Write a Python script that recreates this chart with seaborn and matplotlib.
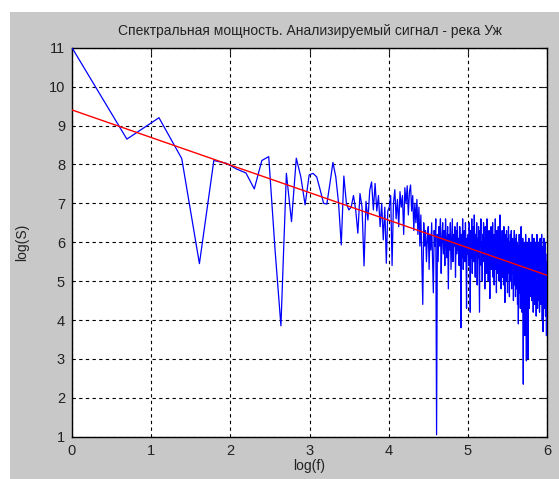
import numpy as np
import pandas as pd
import matplotlib
matplotlib.use("Agg")
import matplotlib.pyplot as plt
import seaborn as sns
from matplotlib.patches import Rectangle

# ---- data: log spectral power at frequency index f = 1..400 ----
log_power_low = [
    11.0, 8.65, 9.2, 8.15, 5.45, 8.1, 8.03, 7.88, 7.78, 7.37,
    8.1, 8.2, 5.8, 3.85, 7.77, 6.53, 8.16, 7.68, 6.96, 7.73,
    7.77, 7.68, 7.34, 7.0, 6.98, 7.51, 8.05, 7.68, 7.0, 5.93,
    7.7, 7.0, 6.83, 6.9, 7.2, 6.83, 6.23, 7.25, 6.9, 5.39,
    7.05, 6.57, 7.34, 7.55, 6.83, 7.51, 6.8, 7.2, 6.4, 7.0,
    6.06, 6.9, 5.46, 6.8,
]
log_power_mid = [
    6.9, 7.2, 5.4, 7.0, 7.35, 6.6, 7.1, 6.4, 7.3, 6.9, 7.2, 6.2,
    7.4, 7.0, 7.45, 6.7, 7.3, 7.47, 6.8, 7.2, 6.3, 7.0, 6.5, 7.1,
    6.2, 6.9, 5.9, 6.7, 5.6, 4.4, 6.5, 5.9, 6.3, 5.5, 6.1, 6.4,
    5.3, 6.2, 5.8, 6.5, 5.6, 4.7, 6.3, 5.9, 6.6, 1.05, 6.2, 5.5,
    6.4, 5.9, 6.6, 5.2, 6.1, 6.5, 5.7, 6.3, 5.4, 6.6, 6.0, 5.6,
    6.4, 4.8, 6.2, 5.8, 6.5, 5.3, 6.0, 6.6, 5.5, 6.2, 5.9, 6.4,
    5.1, 6.3, 5.7, 6.5, 5.8, 6.1, 5.4, 6.4, 5.9, 3.8, 6.2, 5.6,
    6.6, 5.3, 6.0, 6.3, 5.5, 6.5, 5.8, 4.3, 6.1, 5.7,
]
log_power_high = [
    6.2, 5.4, 6.5, 5.9, 4.2, 6.3, 5.6, 6.6, 5.2, 6.0, 6.4, 5.5,
    6.7, 5.8, 5.1, 6.2, 5.7, 6.5, 4.9, 6.1, 5.6, 6.4, 5.3, 4.2,
    6.3, 5.9, 6.6, 5.4, 6.0, 5.0, 6.2, 5.7, 6.5, 5.5, 6.1, 4.8,
    6.4, 5.8, 6.0, 5.2, 6.6, 5.6, 6.2, 5.0, 5.9, 6.3, 5.4, 4.55,
    6.1, 5.7, 6.4, 5.3,
    6.0, 5.5, 6.5, 5.1, 5.8, 6.2, 4.9, 6.0, 5.6, 6.6, 5.3, 5.9,
    4.7, 6.3, 5.5, 6.1, 5.2, 6.4, 5.8, 5.0, 6.2, 5.6, 6.7, 5.4,
    5.9, 4.8, 6.1, 5.5, 6.3, 5.1, 5.8, 6.0, 4.9, 6.4, 5.6, 5.2, 4.45,
    6.2, 5.7, 6.0, 5.0, 6.3, 5.4, 5.9, 4.7, 6.1, 5.5, 6.4, 5.2,
    5.8, 4.6, 6.0, 5.4, 6.2, 5.0, 5.7, 6.3, 4.8, 5.9, 5.3,
    6.1, 5.2, 5.7, 4.5, 6.0, 5.5, 6.3, 4.9, 5.6, 6.1, 4.6, 5.8,
    5.3, 6.2, 4.8, 5.5, 6.0, 4.4, 5.7, 5.1, 3.9, 5.9, 5.3, 6.2,
    4.7, 5.5, 6.0, 4.3, 5.8, 5.2, 6.4, 4.9, 5.6, 4.2, 5.9, 5.0,
    6.1, 4.6, 2.35, 5.7, 5.2, 6.0, 4.4, 5.5, 3.6, 5.9, 4.8, 6.2,
    5.3, 4.1, 2.95, 5.6, 5.0, 6.0, 4.5, 5.4, 3.0, 5.8, 4.9, 5.3,
    6.1, 4.3, 5.6, 5.0, 5.9, 4.6, 5.4, 6.0, 4.8, 5.5,
    5.1, 5.9, 4.5, 5.6, 6.2, 4.8, 5.3, 5.9, 4.2, 5.7,
    5.0, 6.1, 4.6, 5.4, 5.8, 4.4, 5.6, 5.1, 6.0, 4.7,
    5.5, 4.1, 5.8, 5.2, 6.2, 4.9, 5.4, 4.3, 5.9, 5.0,
    5.7, 4.5, 6.0, 5.3, 4.8, 5.8, 4.2, 5.5, 5.0, 6.1,
    4.6, 5.4, 5.9, 4.4, 5.6, 5.1, 6.2, 4.7, 5.3, 4.0,
    5.8, 5.0, 5.5, 3.7, 5.9, 4.8, 5.4, 6.1, 4.3, 5.6,
    5.0, 5.8, 4.5, 6.0, 5.2, 4.1, 5.7, 4.9, 5.5, 3.6,
]
log_power = log_power_low + log_power_mid + log_power_high
freq_index = np.arange(1, len(log_power) + 1)
log_f = np.log(freq_index)

# linear fit endpoints (red regression line)
fit_x = [0.0, 6.0]
fit_y = [9.4, 5.15]

title = "Спектральная мощность. Анализируемый сигнал - река Уж"
xlabel = "log(f)"
ylabel = "log(S)"
xticks = [0, 1, 2, 3, 4, 5, 6]
yticks = [1, 2, 3, 4, 5, 6, 7, 8, 9, 10, 11]

df = pd.DataFrame({"log_f": log_f, "log_S": log_power})
df_fit = pd.DataFrame({"x": fit_x, "y": fit_y})

sns.set_style("white")
plt.rcParams["font.family"] = ["Liberation Sans", "DejaVu Sans"]

W, H = 559, 479
fig = plt.figure(figsize=(W / 100, H / 100), dpi=100, facecolor="white")
bg = Rectangle((10 / W, 0), (W - 10) / W, (H - 12) / H,
               transform=fig.transFigure, facecolor="#c8c8c8",
               edgecolor="none", zorder=-10)
fig.add_artist(bg)
ax = fig.add_axes([72 / W, (H - 436.7) / H, (547 - 72) / W, (436.7 - 47.7) / H])
ax.set_zorder(5)
ax.set_facecolor("white")

sns.lineplot(data=df, x="log_f", y="log_S", sort=False, estimator=None,
             color="#0000ff", lw=0.9, ax=ax, zorder=3)
sns.lineplot(data=df_fit, x="x", y="y", sort=False, estimator=None,
             color="#ff0000", lw=1.0, ax=ax, zorder=4)

ax.set_xlim(0, 6)
ax.set_ylim(1, 11)
ax.set_xticks(xticks)
ax.set_yticks(yticks)
ax.grid(True, color="black", linestyle=(0, (3, 3)), lw=0.8)
ax.set_axisbelow(True)
for s in ax.spines.values():
    s.set_color("black")
    s.set_linewidth(1.0)
ax.tick_params(direction="in", length=4, width=0.8, colors="#222222",
               labelsize=10.5, top=True, right=True, pad=5)
ax.set_xlabel(xlabel, fontsize=10, labelpad=1, color="#222222")
ax.set_ylabel(ylabel, fontsize=10, labelpad=14, color="#222222")
ax.set_title(title, fontsize=10, pad=9, color="#222222")

fig.savefig("out.png", dpi=100, facecolor="white")
